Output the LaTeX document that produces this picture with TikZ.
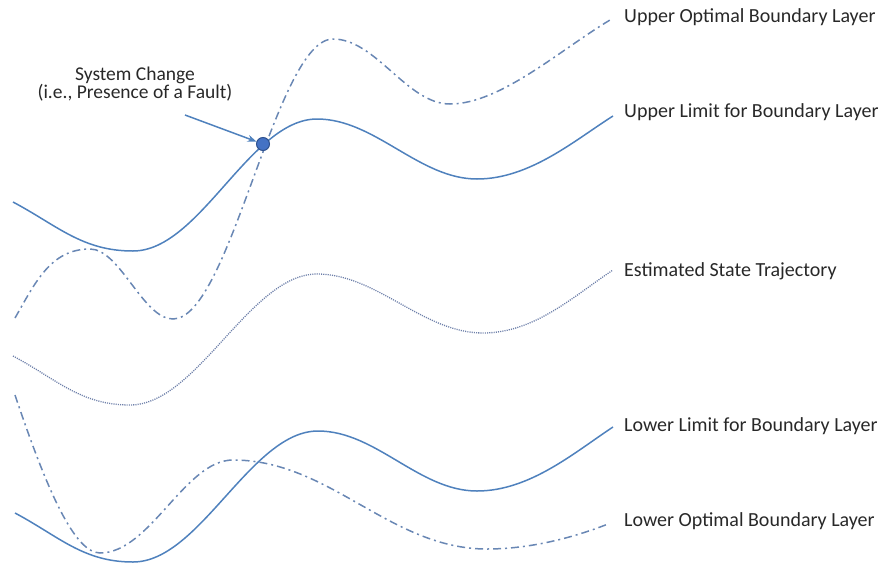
\documentclass[tikz,border=0pt]{standalone}
\usepackage{fontspec}
\setmainfont{Carlito}
\usetikzlibrary{arrows.meta}
\definecolor{lineblue}{RGB}{79,129,189}
\definecolor{dashblue}{RGB}{105,135,180}
\definecolor{dotblue}{RGB}{110,128,170}
\definecolor{txtgray}{RGB}{40,40,40}
\definecolor{dotfill}{RGB}{68,114,196}
\definecolor{dotdraw}{RGB}{47,82,143}
\begin{document}
\begin{tikzpicture}[x=1pt,y=-1pt,
  solidcurve/.style={draw=lineblue, line width=1.5pt},
  dashcurve/.style={draw=dashblue, line width=1.5pt, dash pattern=on 8pt off 4pt on 2pt off 4pt},
  dotcurve/.style={draw=dotblue, line width=1.3pt, dash pattern=on 1.1pt off 1.1pt},
  lbl/.style={anchor=west, text=txtgray, font=\fontsize{20}{24}\selectfont, inner sep=0pt},
  note/.style={align=center, text=txtgray, font=\fontsize{19.5}{17}\selectfont, inner sep=0pt},
  faultdot/.style={circle, fill=dotfill, draw=dotdraw, line width=1pt, minimum size=13pt, inner sep=0pt}
]
\useasboundingbox (0,0) rectangle (881,563);

% Upper optimal boundary layer (dash-dot)
\coordinate (uoS) at (15,318);
\coordinate (uoE) at (610,20);
\draw[dashcurve] (uoS) to[out=60,in=180] (90,249)
  .. controls (120,249) and (143,319) .. (173,319)
  .. controls (230,319) and (276,39) .. (333,39)
  .. controls (376,39) and (407,104) .. (450,104)
  .. controls (500,104) and (560,50) .. (uoE);

% Upper limit for boundary layer (solid)
\coordinate (ulS) at (13,202);
\coordinate (ulE) at (613,116);
\draw[solidcurve] (ulS) to[out=-28,in=180] (133,251)
  .. controls (200,251) and (250,119) .. (317,119)
  .. controls (375,119) and (419,179) .. (477,179)
  .. controls (530,179) and (575,140) .. (ulE);

% Estimated state trajectory (dotted)
\coordinate (esS) at (13,356);
\coordinate (esE) at (613,270);
\draw[dotcurve] (esS) to[out=-28,in=180] (130,405)
  .. controls (197,405) and (250,274) .. (317,274)
  .. controls (377,274) and (423,333) .. (483,333)
  .. controls (535,333) and (575,295) .. (esE);

% Lower limit for boundary layer (solid)
\coordinate (llS) at (15,513);
\coordinate (llE) at (613,427);
\draw[solidcurve] (llS) to[out=-28,in=180] (133,562)
  .. controls (200,562) and (251,431) .. (318,431)
  .. controls (376,431) and (419,491) .. (477,491)
  .. controls (530,491) and (575,452) .. (llE);

% Lower optimal boundary layer (dash-dot)
\coordinate (loS) at (15,395);
\coordinate (loE) at (608,524);
\draw[dashcurve] (loS) .. controls (42,475) and (72,553) .. (100,553)
  .. controls (150,553) and (185,460) .. (233,460)
  .. controls (330,460) and (390,549) .. (487,549)
  .. controls (535,549) and (580,535) .. (loE);

% Labels
\node[lbl] (tUO) at (624,17) {Upper Optimal Boundary Layer};
\node[lbl] (tUL) at (624,112) {Upper Limit for Boundary Layer};
\node[lbl] (tES) at (624,271) {Estimated State Trajectory};
\node[lbl] (tLL) at (624,426) {Lower Limit for Boundary Layer};
\node[lbl] (tLO) at (624,521) {Lower Optimal Boundary Layer};

% Fault marker
\node[faultdot] (fault) at (263,144) {};
\node[note] (fnote) at (135,84) {System Change\\(i.e., Presence of a Fault)};
\coordinate (arrS) at (185,115);
\draw[draw=lineblue, line width=1.5pt, -{Stealth[length=9pt,width=7pt]}] (arrS) -- (fault);
\end{tikzpicture}
\end{document}
